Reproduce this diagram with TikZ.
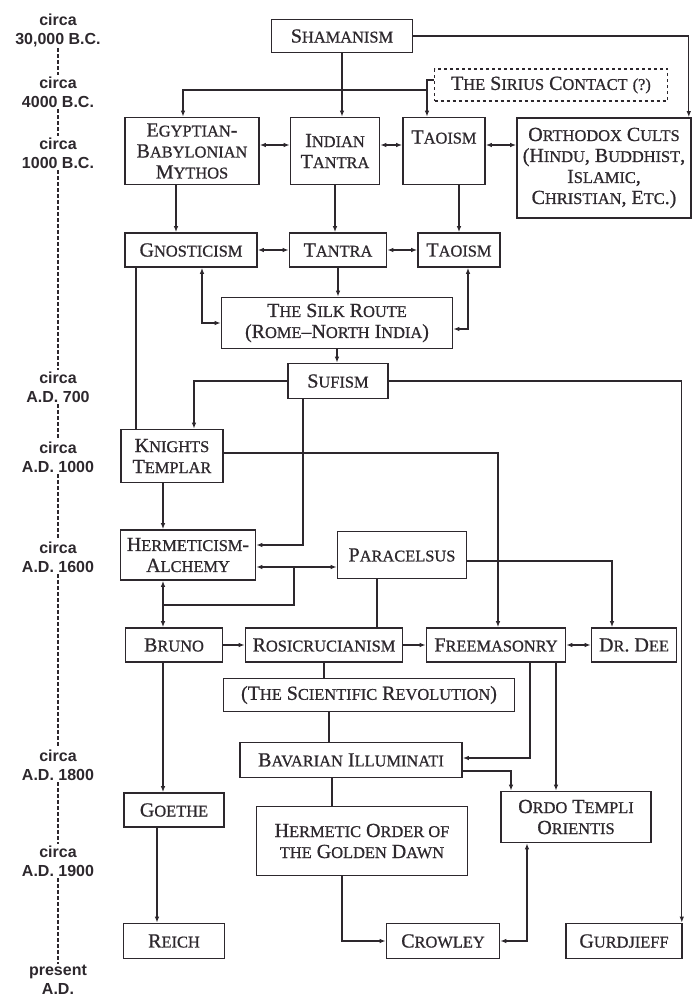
\documentclass[tikz,border=0pt]{standalone}
\usepackage{fontspec}
\usetikzlibrary{arrows.meta}
\newfontfamily\erafont{Liberation Sans}
\newfontfamily\boxfont{Liberation Serif}[FakeBold=0.8]
\newcommand\smc[1]{{\fontsize{16.4}{21}\selectfont #1}}
\definecolor{ink}{RGB}{45,40,45}

\begin{document}
\begin{tikzpicture}[x=1pt,y=-1pt,line width=1.3pt,color=ink,>={Latex[length=6pt,width=4.5pt]},
    box/.style={draw,rectangle,line width=1.6pt,align=center,inner sep=2pt,font=\boxfont\fontsize{20}{21}\selectfont},
    era/.style={align=center,inner sep=1pt,font=\erafont\bfseries\fontsize{16}{19}\selectfont},
    timeline/.style={line width=1.6pt,dash pattern=on 4pt off 2pt}]
    \useasboundingbox (0,0) rectangle (693,1002);
    % time scale
    \node[era] (t1) at (58,30) {circa\\30,000 B.C.};
    \node[era] (t2) at (58,92) {circa\\4000 B.C.};
    \node[era] (t3) at (58,153) {circa\\1000 B.C.};
    \node[era] (t4) at (58,387) {circa\\A.D. 700};
    \node[era] (t5) at (58,457) {circa\\A.D. 1000};
    \node[era] (t6) at (58,557) {circa\\A.D. 1600};
    \node[era] (t7) at (58,765) {circa\\A.D. 1800};
    \node[era] (t8) at (58,861) {circa\\A.D. 1900};
    \node[era] (t9) at (58,980) {present\\A.D.};
    \foreach \a/\b in {t1/t2,t2/t3,t3/t4,t4/t5,t5/t6,t6/t7,t7/t8,t8/t9}
        \draw[timeline] (\a) -- (\b);
    % boxes
    \node[box] (shaman) [minimum width=141pt,minimum height=33pt] at (342,36) {S\smc{HAMANISM}};
    \node[box] (sirius) [dashed,minimum width=233pt,minimum height=32pt] at (551,85) {T\smc{HE} S\smc{IRIUS} C\smc{ONTACT} \smc{(?)}};
    \node[box] (egypt) [minimum width=134pt,minimum height=67pt] at (192,151) {E\smc{GYPTIAN}-\\B\smc{ABYLONIAN}\\M\smc{YTHOS}};
    \node[box] (itantra) [minimum width=89pt,minimum height=67pt] at (335,151) {I\smc{NDIAN}\\T\smc{ANTRA}};
    \node[box] (taoA) [minimum width=82pt,minimum height=67pt,text depth=28pt] at (444,151) {T\smc{AOISM}};
    \node[box] (ortho) [minimum width=174pt,minimum height=100pt] at (604,168) {O\smc{RTHODOX} C\smc{ULTS}\\(H\smc{INDU}, B\smc{UDDHIST},\\I\smc{SLAMIC},\\C\smc{HRISTIAN}, E\smc{TC}.)};
    \node[box] (gnost) [minimum width=132pt,minimum height=34pt] at (191,250) {G\smc{NOSTICISM}};
    \node[box] (tantra) [minimum width=97pt,minimum height=34pt] at (338,250) {T\smc{ANTRA}};
    \node[box] (taoB) [minimum width=82pt,minimum height=34pt] at (459,250) {T\smc{AOISM}};
    \node[box] (silk) [minimum width=231pt,minimum height=51pt] at (337,323) {T\smc{HE} S\smc{ILK} R\smc{OUTE}\\(R\smc{OME}\textendash N\smc{ORTH} I\smc{NDIA})};
    \node[box] (sufism) [minimum width=100pt,minimum height=35pt] at (338,381) {S\smc{UFISM}};
    \node[box] (knights) [minimum width=102pt,minimum height=53pt] at (172,456) {K\smc{NIGHTS}\\T\smc{EMPLAR}};
    \node[box] (herm) [minimum width=135pt,minimum height=50pt] at (188,555) {H\smc{ERMETICISM}-\\A\smc{LCHEMY}};
    \node[box] (para) [minimum width=129pt,minimum height=47pt] at (402,555) {P\smc{ARACELSUS}};
    \node[box] (bruno) [minimum width=97pt,minimum height=34pt] at (174,645) {B\smc{RUNO}};
    \node[box] (rosi) [minimum width=157pt,minimum height=34pt] at (324,645) {R\smc{OSICRUCIANISM}};
    \node[box] (free) [minimum width=139pt,minimum height=34pt] at (496,645) {F\smc{REEMASONRY}};
    \node[box] (dee) [minimum width=85pt,minimum height=34pt] at (634,645) {D\smc{R}. D\smc{EE}};
    \node[box] (scirev) [minimum width=291pt,minimum height=33pt] at (369,695) {(T\smc{HE} S\smc{CIENTIFIC} R\smc{EVOLUTION})};
    \node[box] (bav) [minimum width=222pt,minimum height=35pt] at (351,760) {B\smc{AVARIAN} I\smc{LLUMINATI}};
    \node[box] (goethe) [minimum width=100pt,minimum height=34pt] at (174,810) {G\smc{OETHE}};
    \node[box] (oto) [minimum width=150pt,minimum height=51pt] at (576,817) {O\smc{RDO} T\smc{EMPLI}\\O\smc{RIENTIS}};
    \node[box] (hogd) [minimum width=211pt,minimum height=69pt] at (362,841) {H\smc{ERMETIC} O\smc{RDER OF}\\\smc{THE} G\smc{OLDEN} D\smc{AWN}};
    \node[box] (reich) [minimum width=101pt,minimum height=35pt] at (174,941) {R\smc{EICH}};
    \node[box] (crowley) [minimum width=113pt,minimum height=35pt] at (443,941) {C\smc{ROWLEY}};
    \node[box] (gurd) [minimum width=116pt,minimum height=35pt] at (624,941) {G\smc{URDJIEFF}};
    \coordinate (sj) at (427,90);
    \coordinate (hpj) at (294,567);
    \coordinate (hbj) at (163,605);
    % links
    \draw[->] (shaman.south) -- (shaman.south |- itantra.north);
    \draw[->] (shaman.east) -| ([xshift=-3pt]ortho.north east);
    \draw ([yshift=5pt]sirius.west) -| (sj);
    \draw[->] (sj) -- (sj |- taoA.north);
    \draw[->] (sj) -| ([xshift=-9pt]egypt.north);
    \draw[<->] ([yshift=6pt]egypt.east) -- ([yshift=6pt]egypt.east -| itantra.west);
    \draw[<->] ([yshift=6pt]itantra.east) -- ([yshift=6pt]itantra.east -| taoA.west);
    \draw[<->] ([yshift=6pt]taoA.east) -- ([yshift=6pt]taoA.east -| ortho.west);
    \draw[->] ([xshift=-16pt]egypt.south) -- ([xshift=-16pt]egypt.south |- gnost.north);
    \draw[->] (itantra.south) -- (itantra.south |- tantra.north);
    \draw[->] (taoA.south -| taoB.north) -- (taoB.north);
    \draw[<->] (gnost) -- (tantra);
    \draw[<->] (tantra) -- (taoB);
    \draw[->] (tantra.south) -- (tantra.south |- silk.north);
    \draw[<->] ([xshift=11pt]gnost.south) |- (silk.west);
    \draw[<->] ([xshift=9pt]taoB.south) |- ([yshift=-6pt]silk.east);
    \draw ([xshift=-55pt]gnost.south) -- ([xshift=-55pt]gnost.south |- knights.north);
    \draw[->] (silk.south) -- (silk.south |- sufism.north);
    \draw[->] (sufism.west) -| ([xshift=22pt]knights.north);
    \draw[->] ([xshift=-35pt]sufism.south) |- ([yshift=10pt]herm.east);
    \draw[->] (sufism.east) -| ([xshift=-1pt]gurd.north east);
    \draw[->] ([yshift=3pt]knights.east) -| ([xshift=2pt]free.north);
    \draw[->] ([xshift=-9pt]knights.south) -- ([xshift=-9pt]knights.south |- herm.north);
    \draw[<->] ([yshift=-12pt]herm.east) -- ([yshift=-12pt]herm.east -| para.west);
    \draw (hpj) |- (hbj);
    \draw[<->] ([xshift=-25pt]herm.south) -- ([xshift=-25pt]herm.south |- bruno.north);
    \draw ([xshift=-25pt]para.south) -- ([xshift=-25pt]para.south |- rosi.north);
    \draw[->] ([yshift=-6pt]para.east) -| ([xshift=-22pt]dee.north);
    \draw[->] (bruno) -- (rosi);
    \draw[->] (rosi) -- (free);
    \draw[<->] (free) -- (dee);
    \draw (rosi.south) -- (rosi.south |- scirev.north);
    \draw ([xshift=-40pt]scirev.south) -- ([xshift=-40pt]scirev.south |- bav.north);
    \draw[->] ([xshift=34pt]free.south) |- ([yshift=2pt]bav.east);
    \draw[->] ([xshift=60pt]free.south) -- ([xshift=60pt]free.south |- oto.north);
    \draw[->] ([yshift=-11pt]bav.east) -| ([xshift=-65pt]oto.north);
    \draw ([xshift=-19pt]bav.south) -- ([xshift=-19pt]bav.south |- hogd.north);
    \draw[->] ([xshift=-20pt]hogd.south) |- (crowley.west);
    \draw[<->] (crowley.east) -| ([xshift=-49pt]oto.south);
    \draw[->] ([xshift=-11pt]bruno.south) -- ([xshift=-11pt]bruno.south |- goethe.north);
    \draw[->] ([xshift=-17pt]goethe.south) -- ([xshift=-17pt]goethe.south |- reich.north);
\end{tikzpicture}
\end{document}
